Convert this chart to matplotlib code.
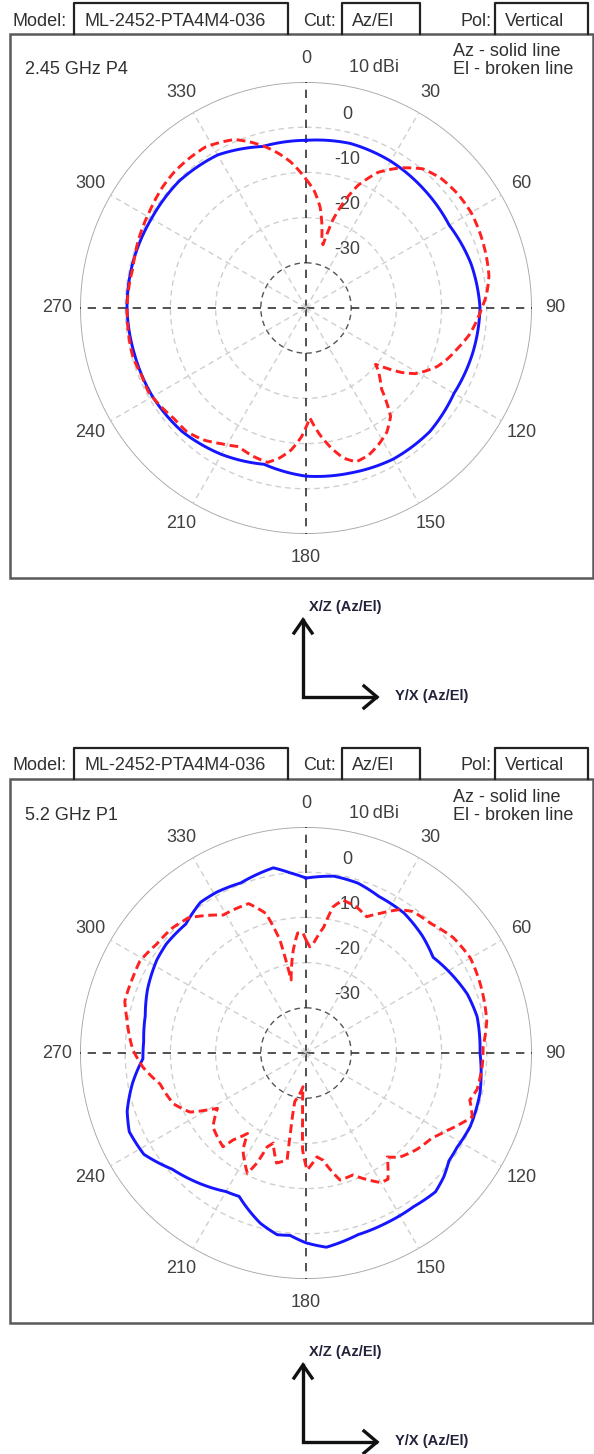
import numpy as np
import matplotlib
matplotlib.use("Agg")
import matplotlib.pyplot as plt
from matplotlib.lines import Line2D
from matplotlib.patches import Rectangle
from matplotlib.transforms import offset_copy

plt.rcParams['font.family'] = ['Liberation Sans', 'DejaVu Sans']

W, H = 594, 1454

# ---- header / labels ----
model = "ML-2452-PTA4M4-036"
cut = "Az/El"
pol = "Vertical"
titles = ["2.45 GHz P4", "5.2 GHz P1"]
angle_ticks = list(range(0, 360, 30))
ring_levels = [0, -10, -20, -30]
ring_labels = ["0", "-10", "-20", "-30"]
r_min, r_max = -40, 10

# ---- 2.45 GHz P4 ----
az1_deg = [0, 15, 30, 45, 60, 75, 90, 105, 120, 135, 150, 165, 180, 195, 210,
           225, 240, 255, 270, 285, 300, 315, 330, 345, 360]
az1_db = [-2.9, -2.3, -2.5, -3.0, -3.4, -2.2, -1.5, -1.8, -2.2, -1.3, -1.4, -2.2,
          -2.8, -4.2, -2.6, -1.3, -0.8, -0.7, -0.4, -0.4, -0.5, -0.3, -0.9, -3.0, -2.9]

el1_deg = [0, 4, 8, 11, 13, 15, 17, 20, 23, 28, 34, 40, 46, 53, 60, 67, 74, 80, 86, 90,
           95, 99, 105, 110, 114, 118, 121, 124, 127, 129, 131, 134, 137, 142, 147, 152,
           157, 162, 166, 170, 174, 178, 182, 186, 190, 194, 200, 206, 212, 218, 224, 230,
           236, 242, 248, 254, 260, 267, 275, 283, 292, 302, 310, 316, 322, 328, 333, 337,
           342, 346, 350, 354, 357, 360]
el1_db = [-11.5, -14.0, -17.5, -21.5, -24.5, -25.5, -19.5, -14.5, -10.5, -6.0,
          -2.6, 0.2, 1.4, 2.0, 2.2, 1.9, 1.5, 1.1, 0.0, -1.1,
          -2.3, -3.3, -5.3, -6.8, -8.2, -10.2, -11.8, -14.5, -18.0, -20.2,
          -18.8, -17.2, -15.5, -9.6, -7.2, -5.8, -4.6, -4.2, -5.8, -8.7,
          -12.0, -15.7, -11.5, -8.4, -6.3, -4.8, -5.2, -5.9, -4.6, -3.0,
          -2.0, -1.9, -1.2, -0.5, -0.7, -0.2, -0.3, -0.4, -0.5, -0.7,
          0.0, 0.7, 1.5, 1.9, 2.0, 2.0, 1.2, 0.5, -1.5, -3.3,
          -5.3, -7.5, -9.5, -11.5]

# ---- 5.2 GHz P1 ----
az2_deg = [0, 9, 17, 25, 35, 45, 53, 61, 70, 78, 90, 103, 114, 122, 127, 132, 137, 145,
           155, 164, 174, 180, 185, 189, 195, 205, 210, 219, 229, 238, 246, 252, 260, 268,
           274, 283, 292, 302, 308, 317, 325, 331, 339, 350, 355, 360]
az2_db = [-1.3, -0.4, -0.7, -1.8, -2.2, -3.5, -4.8, -3.5, -2.0, -1.3,
          -1.5, -0.5, -0.2, -0.6, -0.4, 1.0, 2.0, 1.5, 1.6, 1.8,
          3.2, 2.0, 0.5, 0.7, -1.0, -5.0, -4.6, -2.8, -0.8, 2.3,
          2.8, 1.6, -1.0, -3.9, -4.0, -3.5, -2.2, -1.1, -0.8, -1.0,
          0.7, 0.7, 0.3, 1.6, 0.0, -1.3]

el2_deg = [0, 2, 4, 8, 10.5, 13.5, 19, 24, 28, 33, 37, 44, 52, 60, 68, 80, 88, 94, 98, 102,
           106, 111, 114, 119, 124, 131, 138, 142, 147, 150, 154, 159, 165, 171, 174, 179.5,
           182, 183, 185, 193, 191, 190, 195, 200, 202.5, 204, 206, 213, 216, 220, 221.5,
           231.5, 238, 240, 243, 249, 258, 265, 271, 281, 286, 294, 299, 306, 313, 319, 329,
           339, 344, 347, 348.5, 353, 356, 358.5, 360]
el2_db = [-15.0, -16.5, -15.6, -11.9, -7.1, -5.2, -5.8, -7.0, -5.0, -2.2,
          -0.8, -0.2, 1.4, 2.0, 1.5, 0.6, -0.8, -0.9, -1.1, -1.3,
          -2.3, -0.6, -2.1, -4.5, -6.4, -7.5, -9.0, -10.8, -6.7, -6.9,
          -8.8, -11.1, -10.9, -16.0, -16.9, -14.1, -18.5, -25.8, -32.5, -29.0,
          -22.0, -16.0, -14.8, -18.8, -17.5, -13.4, -10.4, -14.4, -18.0, -14.9,
          -12.3, -13.7, -16.9, -14.8, -11.2, -8.6, -7.0, -3.8, -1.7, 0.4,
          1.7, 1.8, 2.0, 0.9, 0.5, -0.4, -4.4, -4.6, -7.9, -14.3,
          -23.5, -17.0, -13.4, -13.4, -15.0]


def fx(x):
    return x / W


def fy(y):
    return 1 - y / H


fig = plt.figure(figsize=(W / 100, H / 100), dpi=100)
fig.patch.set_facecolor('white')

txt_col = '#303030'
fs = 13


def curved(line):
    # let the polar transform bend segments along the angle
    line.get_path()._interpolation_steps = 12
    return line


def draw_panel(dy, title, az_deg, az_db, el_deg, el_db):
    # header boxes
    fig.text(fx(13), fy(21 + dy), "Model:", fontsize=fs, color=txt_col, va='center')
    fig.text(fx(303), fy(21 + dy), "Cut:", fontsize=fs, color=txt_col, va='center')
    fig.text(fx(460), fy(21 + dy), "Pol:", fontsize=fs, color=txt_col, va='center')
    for x0, x1, s in [(74, 288, model), (342, 420, cut), (495, 588, pol)]:
        fig.add_artist(Line2D([fx(x0), fx(x0), fx(x1), fx(x1)],
                              [fy(34 + dy), fy(3 + dy), fy(3 + dy), fy(34 + dy)],
                              color='#222222', lw=1.6))
        fig.text(fx(x0 + 10), fy(21 + dy), s, fontsize=fs, color=txt_col, va='center')
    # panel frame
    fig.add_artist(Rectangle((fx(10), fy(578 + dy)), 583 / W, 544 / H, fill=False,
                             ec='#5a5a5a', lw=1.8, transform=fig.transFigure))
    fig.text(fx(25), fy(70 + dy), title, fontsize=fs, color=txt_col, va='center')
    fig.text(fx(453), fy(52 + dy), "Az - solid line", fontsize=fs, color=txt_col, va='center')
    fig.text(fx(453), fy(70 + dy), "El - broken line", fontsize=fs, color=txt_col, va='center')

    cx, cy, R = 306, 308 + dy, 226
    ax = fig.add_axes([fx(cx - R), fy(cy + R), 2 * R / W, 2 * R / H], projection='polar')
    ax.set_theta_zero_location('N')
    ax.set_theta_direction(-1)
    ax.set_ylim(r_min, r_max)
    ax.set_axis_off()

    th = np.linspace(0, 2 * np.pi, 721)
    ax.plot(th, np.full_like(th, r_max), color='#a8a8a8', lw=1.3)
    for lvl in ring_levels[:-1]:
        ax.plot(th, np.full_like(th, lvl), color='#cfcfcf', lw=1.0, ls=(0, (4, 3)))
    ax.plot(th, np.full_like(th, ring_levels[-1]), color='#555555', lw=1.0, ls=(0, (4, 3)))
    for a in angle_ticks:
        t = np.deg2rad(a)
        if a % 90:
            ax.plot([t, t], [r_min, r_max], color='#cfcfcf', lw=1.0, ls=(0, (4, 3)))
        else:
            ax.plot([t, t], [r_min, r_max], color='#333333', lw=1.2, ls=(0, (5, 4)))
        ax.text(t, 15.1, str(a), fontsize=fs, color='#404040', ha='center', va='center')

    trans = offset_copy(ax.transData, fig=fig, x=41, y=13, units='dots')
    for lvl, lab in zip(ring_levels, ring_labels):
        ax.text(0, lvl, lab, transform=trans, fontsize=fs, color='#404040',
                ha='center', va='center')
    trans2 = offset_copy(ax.transData, fig=fig, x=68, y=14, units='dots')
    ax.text(0, r_max, "10\u2009dBi", transform=trans2, fontsize=fs, color='#404040',
            ha='center', va='center')

    curved(ax.plot(np.deg2rad(az_deg), az_db, color='#1515ff', lw=2.1, zorder=5)[0])
    curved(ax.plot(np.deg2rad(el_deg), el_db, color='#ff2020', lw=2.1,
                   ls=(0, (3, 1.6)), zorder=6)[0])

    # axis orientation sketch
    ox, oy = 303, 697 + dy
    lk = dict(color='#111111', lw=2.4, solid_joinstyle='miter')
    fig.add_artist(Line2D([fx(ox), fx(ox), fx(ox + 73)], [fy(oy - 77), fy(oy), fy(oy)], **lk))
    fig.add_artist(Line2D([fx(ox - 9), fx(ox), fx(ox + 9)],
                          [fy(oy - 64), fy(oy - 77), fy(oy - 64)], **lk))
    fig.add_artist(Line2D([fx(ox + 61), fx(ox + 74), fx(ox + 61)],
                          [fy(oy - 11), fy(oy), fy(oy + 11)], **lk))
    fig.text(fx(309), fy(607 + dy), "X/Z (Az/El)", fontsize=10.5, fontweight='bold',
             color='#22223a', va='center')
    fig.text(fx(395), fy(696 + dy), "Y/X (Az/El)", fontsize=10.5, fontweight='bold',
             color='#22223a', va='center')


draw_panel(0, titles[0], az1_deg, az1_db, el1_deg, el1_db)
draw_panel(745, titles[1], az2_deg, az2_db, el2_deg, el2_db)

fig.savefig("out.png", dpi=100, facecolor='white')
